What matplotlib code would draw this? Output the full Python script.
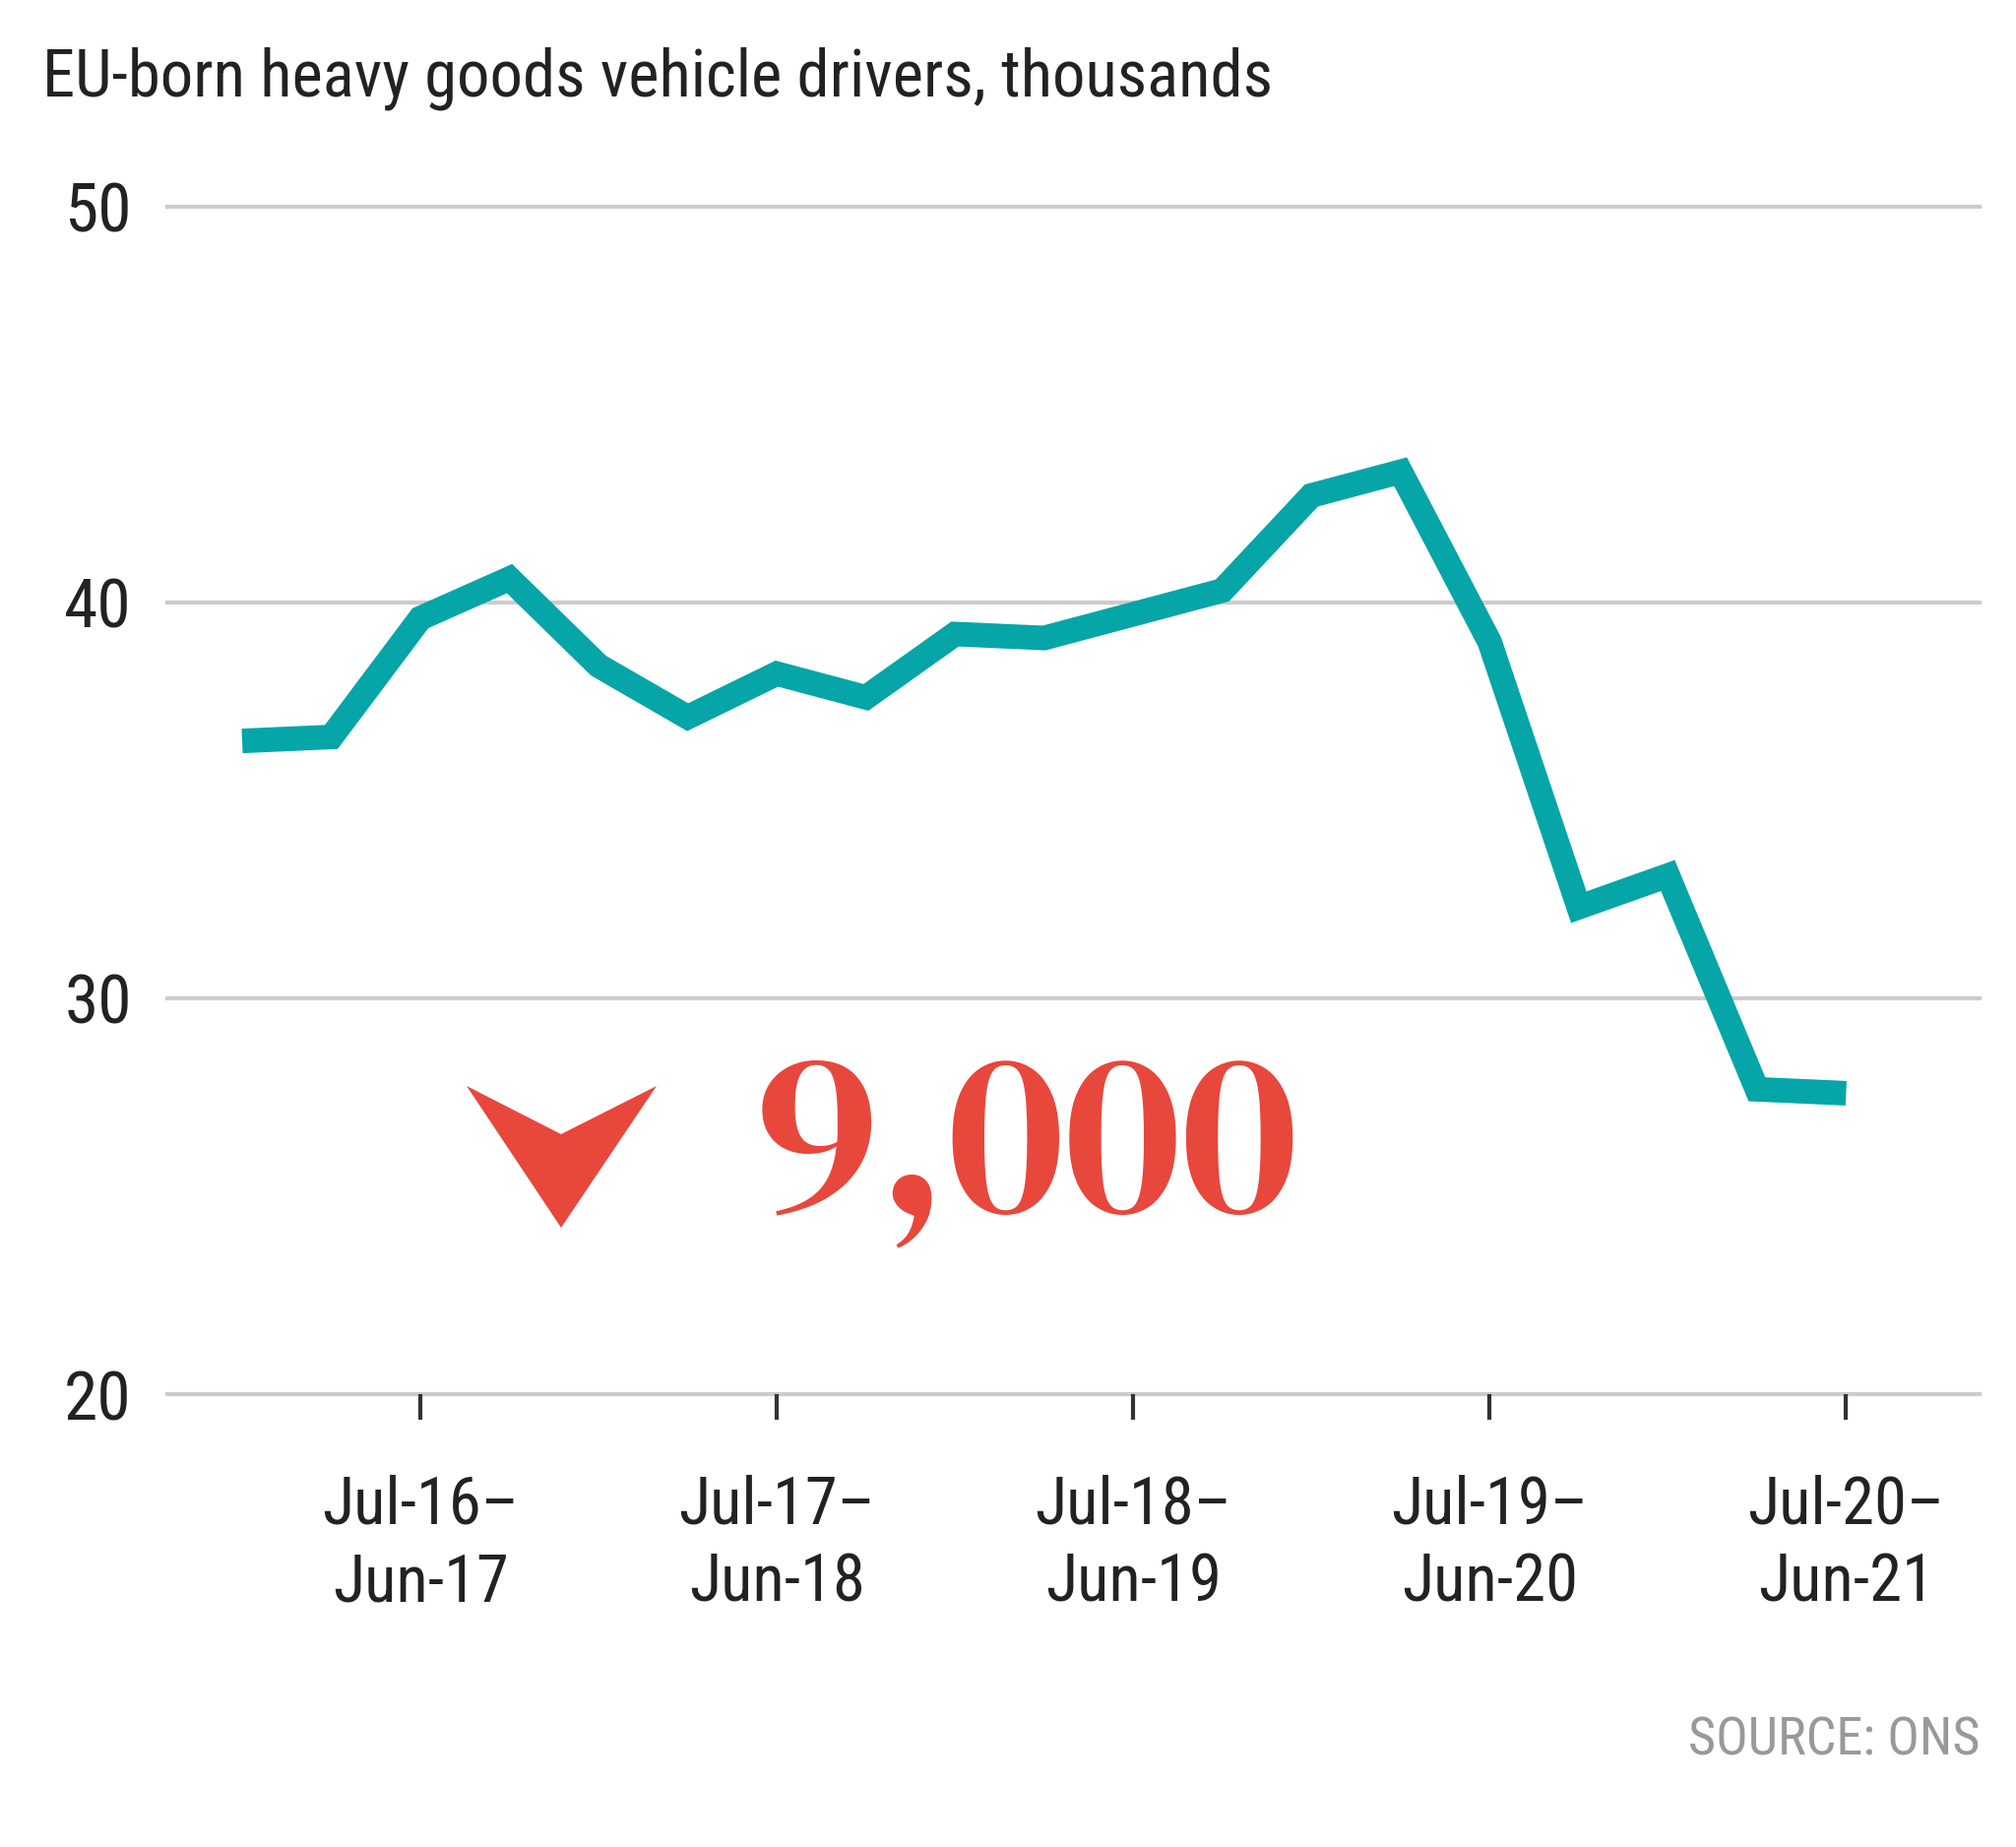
import matplotlib
matplotlib.use("Agg")
import matplotlib.pyplot as plt
from matplotlib.patches import Polygon

plt.rcParams['font.family'] = ['Roboto Condensed', 'DejaVu Sans']

# rolling 12-month windows, quarterly
periods = ["Jan-16-Dec-16", "Apr-16-Mar-17", "Jul-16-Jun-17", "Oct-16-Sep-17",
           "Jan-17-Dec-17", "Apr-17-Mar-18", "Jul-17-Jun-18", "Oct-17-Sep-18",
           "Jan-18-Dec-18", "Apr-18-Mar-19", "Jul-18-Jun-19", "Oct-18-Sep-19",
           "Jan-19-Dec-19", "Apr-19-Mar-20", "Jul-19-Jun-20", "Oct-19-Sep-20",
           "Jan-20-Dec-20", "Apr-20-Mar-21", "Jul-20-Jun-21"]
drivers = [36.5, 36.6, 39.6, 40.6, 38.4, 37.1, 38.2, 37.6, 39.2, 39.1,
           39.7, 40.3, 42.7, 43.3, 39.0, 32.3, 33.1, 27.7, 27.6]

tick_idx = [2, 6, 10, 14, 18]
tick_labels = ["Jul-16\u2013\nJun-17", "Jul-17\u2013\nJun-18", "Jul-18\u2013\nJun-19",
               "Jul-19\u2013\nJun-20", "Jul-20\u2013\nJun-21"]
yticks = [20, 30, 40, 50]

teal = "#05a5a8"
red = "#e8473c"

fig = plt.figure(figsize=(20.48, 18.76), dpi=100)
ax = fig.add_axes([0.083, 0.2452, 0.899, 0.643])

for y in yticks:
    ax.axhline(y, color="#cccccc", lw=3, zorder=1, clip_on=False)

x = list(range(len(drivers)))
ax.plot(x, drivers, color=teal, lw=18, solid_joinstyle="miter",
        solid_capstyle="butt", zorder=3)

ax.set_xlim(-0.84, 19.5)
ax.set_ylim(20, 50)
for s in ax.spines.values():
    s.set_visible(False)

ax.set_yticks(yticks)
ax.set_yticklabels([str(v) for v in yticks], fontsize=50, color="#222222")
ax.tick_params(axis="y", length=0, pad=26)

ax.set_xticks(tick_idx)
ax.set_xticklabels(tick_labels, fontsize=48, color="#222222", linespacing=1.3)
ax.tick_params(axis="x", length=19, width=3, color="#333333", direction="out", pad=40)

fig.text(0.0211, 0.9478, "EU-born heavy goods vehicle drivers, thousands",
         fontsize=48, color="#222222", va="baseline", ha="left")

# change annotation
W, H = 2048, 1876
pts = [(474, 1103), (570, 1152), (667, 1103), (570, 1247)]
arrow = Polygon([(px / W, 1 - py / H) for px, py in pts], closed=True,
                transform=fig.transFigure, color=red, lw=0)
fig.patches.append(arrow)
fig.text(0.509, 0.3445, "9,000", fontsize=170, color=red,
         family=["DM Serif Display", "Liberation Serif"], va="baseline", ha="center")

fig.text(0.982, 0.0501, "SOURCE: ONS", fontsize=39, color="#999999",
         ha="right", va="baseline")

fig.savefig("out.png", dpi=100, facecolor="white")
